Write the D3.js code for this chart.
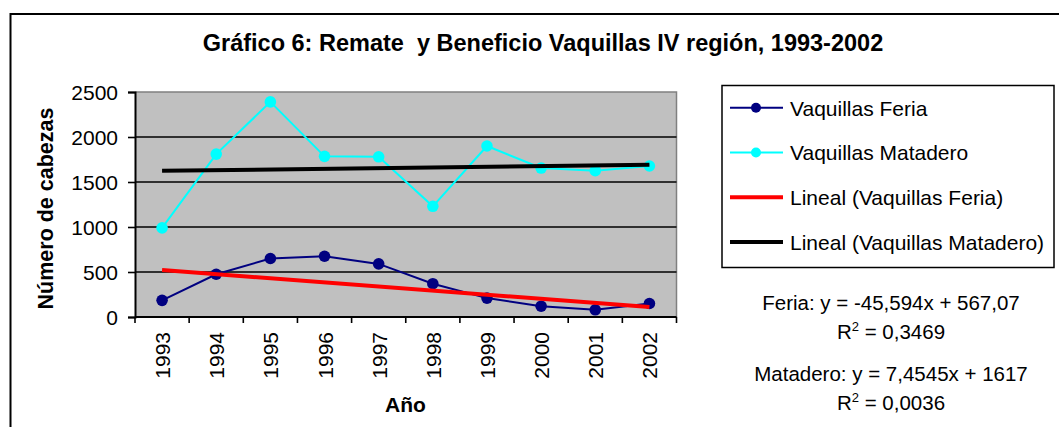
<!DOCTYPE html>
<html>
<head>
<meta charset="utf-8">
<script src="https://cdn.jsdelivr.net/npm/d3@7"></script>
<style>
  html, body { margin: 0; padding: 0; background: #fff; }
  svg { display: block; }
  text { font-family: "Liberation Sans", Arial, sans-serif; fill: #000; }
</style>
</head>
<body>
<svg id="chart" width="1059" height="427"></svg>
<script>
// ---- data ----
const title = "Gráfico 6: Remate  y Beneficio Vaquillas IV región, 1993-2002";
const years = ["1993","1994","1995","1996","1997","1998","1999","2000","2001","2002"];
const feria = [185, 475, 650, 675, 590, 370, 210, 120, 80, 150];
const matadero = [990, 1810, 2390, 1785, 1780, 1230, 1900, 1655, 1626, 1678];
const yTicks = [0, 500, 1000, 1500, 2000, 2500];
const trendSlopes = [-45.594, 7.4545];
const trendIntercepts = [567.07, 1617];
const legendLabels = ["Vaquillas Feria", "Vaquillas Matadero", "Lineal (Vaquillas Feria)", "Lineal (Vaquillas Matadero)"];
const eqLines = ["Feria: y = -45,594x + 567,07", "Matadero: y = 7,4545x + 1617"];
const r2Values = ["0,3469", "0,0036"];
const yTitle = "Número de cabezas";
const xTitle = "Año";

// ---- layout ----
const svg = d3.select("#chart");
const plot = { left: 135, right: 676.5, top: 92, bottom: 317 };
const x = d3.scaleBand().domain(years).range([plot.left, plot.right]);
const y = d3.scaleLinear().domain([0, 2500]).range([plot.bottom, plot.top]);
const cx = d => x(d) + x.bandwidth() / 2;

// outer border (top and left)
svg.append("line").attr("x1", 10.5).attr("x2", 1059).attr("y1", 14).attr("y2", 14)
  .attr("stroke", "#000").attr("stroke-width", 2);
svg.append("line").attr("x1", 10.5).attr("x2", 10.5).attr("y1", 13).attr("y2", 427)
  .attr("stroke", "#000").attr("stroke-width", 2);

// title
svg.append("text").attr("x", 543).attr("y", 51).attr("text-anchor", "middle")
  .attr("font-size", 23.5).attr("font-weight", "bold").attr("xml:space", "preserve")
  .style("white-space", "pre").text(title);

// plot background
svg.append("rect").attr("x", plot.left).attr("y", plot.top)
  .attr("width", plot.right - plot.left).attr("height", plot.bottom - plot.top)
  .attr("fill", "#C0C0C0");
// plot border top/right (gray)
svg.append("path")
  .attr("d", `M${plot.left},${plot.top}H${plot.right}V${plot.bottom}`)
  .attr("fill", "none").attr("stroke", "#808080").attr("stroke-width", 1.5);

// gridlines
svg.append("g").selectAll("line").data(yTicks.filter(t => t > 0 && t < 2500)).join("line")
  .attr("x1", plot.left).attr("x2", plot.right)
  .attr("y1", d => y(d)).attr("y2", d => y(d))
  .attr("stroke", "#000").attr("stroke-width", 1.6);

// y axis
const yAxis = d3.axisLeft(y).tickValues(yTicks).tickSize(7).tickPadding(10).tickFormat(d3.format("d"));
const gy = svg.append("g").attr("transform", `translate(${plot.left},0)`).call(yAxis);
gy.select(".domain").attr("stroke", "#000").attr("stroke-width", 2);
gy.selectAll(".tick line").attr("stroke", "#000").attr("stroke-width", 1.6);
gy.selectAll(".tick text").attr("font-size", 21).attr("font-family", "Liberation Sans, Arial, sans-serif")
  .attr("fill", "#000").attr("dy", "0.36em").attr("x", -17);

// x axis (ticks at category boundaries)
const gx = svg.append("g").attr("transform", `translate(0,${plot.bottom})`);
gx.append("line").attr("x1", plot.left).attr("x2", plot.right).attr("y1", 0).attr("y2", 0)
  .attr("stroke", "#000").attr("stroke-width", 2);
const boundaries = years.map(d => x(d)).concat([plot.right]);
gx.selectAll("line.tk").data(boundaries).join("line").attr("class", "tk")
  .attr("x1", d => d).attr("x2", d => d).attr("y1", 0).attr("y2", 6)
  .attr("stroke", "#000").attr("stroke-width", 1.6);
gx.selectAll("text").data(years).join("text")
  .attr("transform", d => `translate(${cx(d) + 8},15) rotate(-90)`)
  .attr("text-anchor", "end").attr("font-size", 21).text(d => d);

// axis titles
svg.append("text").attr("transform", `translate(52.5,208.5) rotate(-90)`)
  .attr("text-anchor", "middle").attr("font-size", 21.5).attr("font-weight", "bold").text(yTitle);
svg.append("text").attr("x", 405.5).attr("y", 411.5).attr("text-anchor", "middle")
  .attr("font-size", 21).attr("font-weight", "bold").text(xTitle);

// series
const series = [
  { values: feria, color: "#000080" },
  { values: matadero, color: "#00FFFF" }
];
const line = d3.line().x((d, i) => cx(years[i])).y(d => y(d));
series.forEach(s => {
  svg.append("path").datum(s.values).attr("d", line)
    .attr("fill", "none").attr("stroke", s.color).attr("stroke-width", 2);
  svg.append("g").selectAll("circle").data(s.values).join("circle")
    .attr("cx", (d, i) => cx(years[i])).attr("cy", d => y(d)).attr("r", 5.8)
    .attr("fill", s.color);
});

// trendlines from regression equations (x = 1..n)
const trendColors = ["#FF0000", "#000000"];
trendSlopes.forEach((m, k) => {
  const vals = years.map((yr, i) => trendIntercepts[k] + m * (i + 1));
  const ends = [0, vals.length - 1];
  svg.append("line")
    .attr("x1", cx(years[ends[0]])).attr("y1", y(vals[ends[0]]))
    .attr("x2", cx(years[ends[1]])).attr("y2", y(vals[ends[1]]))
    .attr("stroke", trendColors[k]).attr("stroke-width", 4);
});

// legend
const lg = svg.append("g");
lg.append("rect").attr("x", 722).attr("y", 85.5).attr("width", 332).attr("height", 182)
  .attr("fill", "#fff").attr("stroke", "#000").attr("stroke-width", 1.5);
const legendColors = ["#000080", "#00FFFF", "#FF0000", "#000000"];
const legendY = d3.scalePoint().domain(legendLabels).range([107.7, 242]);
legendLabels.forEach((lab, i) => {
  const ly = legendY(lab);
  const isTrend = i >= 2;
  lg.append("line").attr("x1", 730).attr("x2", 783).attr("y1", ly).attr("y2", ly)
    .attr("stroke", legendColors[i]).attr("stroke-width", isTrend ? 4 : 2);
  if (!isTrend) {
    lg.append("circle").attr("cx", 756).attr("cy", ly).attr("r", 5).attr("fill", legendColors[i]);
  }
  lg.append("text").attr("x", 790).attr("y", ly + 8).attr("font-size", 21).text(lab);
});

// regression equations
const eqBaselines = [310, 380.5];
const r2Baselines = [338.5, 410];
eqLines.forEach((t, i) => {
  svg.append("text").attr("x", 891).attr("y", eqBaselines[i]).attr("text-anchor", "middle")
    .attr("font-size", 20.5).text(t);
  const r = svg.append("text").attr("x", 891).attr("y", r2Baselines[i]).attr("text-anchor", "middle")
    .attr("font-size", 20.5);
  r.append("tspan").text("R");
  r.append("tspan").attr("font-size", 13).attr("dy", -8).text("2");
  r.append("tspan").attr("dy", 8).text(" = " + r2Values[i]);
});
</script>
</body>
</html>
